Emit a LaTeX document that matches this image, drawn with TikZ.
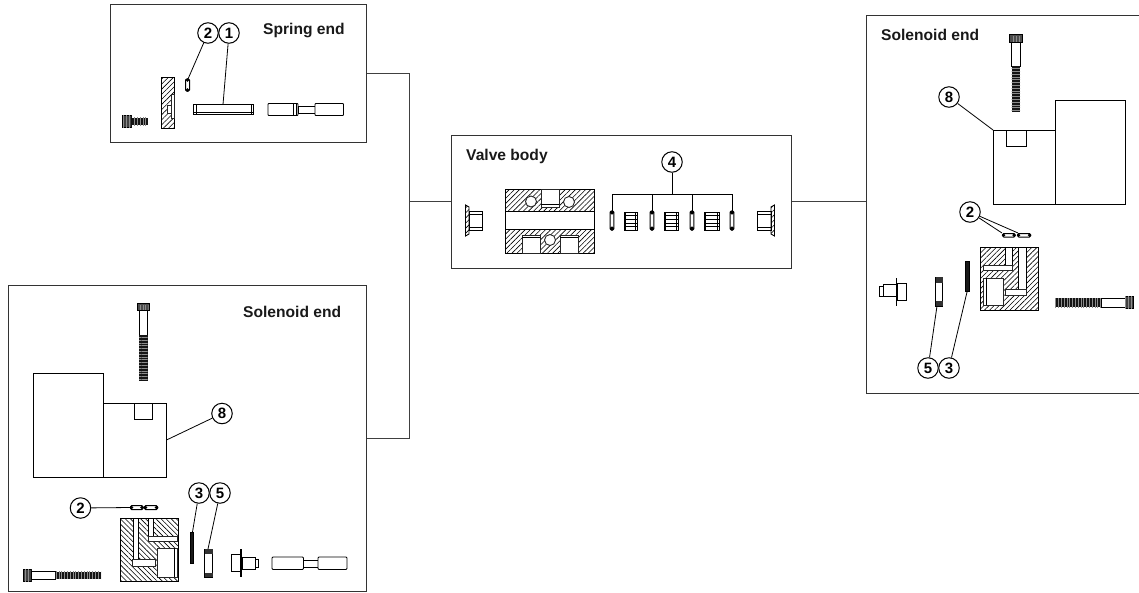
\documentclass[tikz,border=0pt]{standalone}
\usepackage{fontspec}
\setmainfont{Liberation Sans}
\usetikzlibrary{patterns.meta}
\tikzset{
  x=1pt,y=-1pt,
  panel/.style={draw=black!80,line width=1.1pt},
  conn/.style={draw=black!75,line width=1pt},
  bub/.style={circle,draw=black,line width=1pt,fill=white,minimum size=20.5pt,inner sep=0pt,font=\fontsize{15}{15}\selectfont\bfseries},
  lead/.style={draw=black,line width=.8pt},
  lbl/.style={anchor=base west,inner sep=0pt,font=\fontsize{15.6}{16}\selectfont\bfseries,text=black!90},
  part/.style={draw=black,line width=.9pt,fill=white},
  thin part/.style={draw=black,line width=.7pt},
  hatchR/.style={draw=black,line width=.9pt,pattern={Lines[angle=45,distance=3.6pt,line width=.6pt]},pattern color=black},
  hatchL/.style={draw=black,line width=.9pt,pattern={Lines[angle=-45,distance=3.6pt,line width=.6pt]},pattern color=black},
  void/.style={fill=white,draw=black!85,line width=.7pt},
  thread/.style={fill=black!92},
  threadgrid/.style={pattern={Lines[angle=0,distance=2.8pt,line width=.35pt]},pattern color=black!45},
  threadgridh/.style={pattern={Lines[angle=90,distance=2.8pt,line width=.35pt]},pattern color=black!45},
  oring/.style={draw=black,line width=1pt,fill=white,rounded corners=1.2pt},
}
\begin{document}
\begin{tikzpicture}
\useasboundingbox (0,0) rectangle (1139,592);
% panels
\node[panel,anchor=north west,minimum width=256pt,minimum height=138pt,inner sep=0pt] (spring) at (110,4) {};
\node[panel,anchor=north west,minimum width=340pt,minimum height=133pt,inner sep=0pt] (valve) at (451,135) {};
\node[panel,anchor=north west,minimum width=272.5pt,minimum height=378pt,inner sep=0pt] (solR) at (866,15) {};
\node[panel,anchor=north west,minimum width=358pt,minimum height=306pt,inner sep=0pt] (solL) at (8,285) {};
% connectors
\coordinate (j1) at (409,73);
\coordinate (j2) at (409,438);
\coordinate (j3) at (409,201);
\draw[conn] (spring.east |- j1) -- (j1) -- (j2) -- (solL.east |- j2);
\draw[conn] (j3) -- (valve.west |- j3);
\draw[conn] (valve.east |- j3) -- (solR.west |- j3);
% labels
\node[lbl] (t1) at (263,34.7) {Spring end};
\node[lbl] (t2) at (466,160) {Valve body};
\node[lbl] (t3) at (881,40) {Solenoid end};
\node[lbl] (t4) at (243,317.7) {Solenoid end};

%% Spring end parts
\fill[thread] (131,117.5) rectangle (147.5,125);
\fill[threadgridh] (131,117.5) rectangle (147.5,125);
\draw[part,fill=black!75] (122,115.5) rectangle (131,127);
\fill[threadgridh] (122,115.5) rectangle (131,127);
\draw[hatchR] (161.5,77.5) -- (174,77.5) -- (174,128) -- (161.5,128) -- cycle;
\draw[void] (171,94) rectangle (174,118);
\draw[void] (167,105) rectangle (171,113);
\draw[oring] (185.5,79) rectangle (189.5,91);
\fill (187.5,80) circle (1.8) (187.5,90) circle (1.8);
\coordinate (p2a) at (188,79);
\draw[part] (193.5,104.5) rectangle (253.5,114);
\draw[thin part] (196,104.5) -- (196,114) (251,104.5) -- (251,114);
\draw[thin part,line width=1.2pt] (193.5,112.5) -- (253.5,112.5);
\coordinate (p1a) at (223,104.5);
\draw[part,rounded corners=.8pt] (268,103.5) rectangle (298,115.5);
\draw[thin part] (293,103.5) -- (293,115.5) (296,103.5) -- (296,115.5);
\draw[part] (298,106) rectangle (315,113);
\draw[part,rounded corners=.8pt] (315,103.5) rectangle (343.5,115.5);
\node[bub] (b2s) at (208,33) {2};
\node[bub] (b1s) at (229,33) {1};
\draw[lead] (b2s) -- (p2a);
\draw[lead] (b1s) -- (p1a);

%% Valve body parts
\draw[part] (469,211) rectangle (482,230);
\draw[thin part] (469,214) -- (482,214) (469,227) -- (482,227);
\draw[hatchR] (465.5,205) -- (469,207) -- (469,234) -- (465.5,236) -- cycle;
\draw[part] (757,211) rectangle (771,230);
\draw[thin part] (757,214) -- (771,214) (757,227) -- (771,227);
\draw[hatchR] (771,207) -- (774.5,205) -- (774.5,236) -- (771,234) -- cycle;
% block
\draw[hatchR] (505.5,189.5) rectangle (594,211);
\draw[hatchR] (505.5,229.5) rectangle (594,253);
\draw[part] (505.5,211) rectangle (594,229.5);
\draw[void] (541,189.5) rectangle (559,207);
\draw[thin part] (541,204) -- (559,204);
\draw[void,line width=.9pt] (531,201.5) circle (5.5);
\draw[void,line width=.9pt] (569,202) circle (5.5);
\draw[void] (522,235) rectangle (540,253);
\draw[void] (560,235) rectangle (578,253);
\draw[thin part] (522,237.5) -- (540,237.5) (560,237.5) -- (578,237.5);
\draw[void,line width=.9pt] (550,240) circle (5.5);
% orings and cages
\foreach \xx/\nm in {612/r1,652/r2,692/r3,732/r4}{
  \draw[oring] (\xx-1.8,211) rectangle (\xx+1.8,230);
  \fill (\xx,212.5) circle (2) (\xx,228.5) circle (2);
  \coordinate (\nm) at (\xx,211);
}
\foreach \xa/\xb in {624/637,664/678,704/719}{
  \draw[part] (\xa,212) rectangle (\xb,230);
  \draw[thin part,line width=1.2pt] (\xa+1.5,212) -- (\xa+1.5,230) (\xb-1.5,212) -- (\xb-1.5,230);
  \draw[thin part] (\xa,215.5) -- (\xb,215.5) (\xa,219.5) -- (\xb,219.5) (\xa,223) -- (\xb,223) (\xa,226.5) -- (\xb,226.5);
}
\node[bub] (b4) at (672,162) {4};
\coordinate (h1) at (612,194);
\coordinate (h4) at (732,194);
\coordinate (hm) at (672,194);
\draw[lead] (b4) -- (hm);
\draw[lead] (r1) -- (h1) -- (h4) -- (r4);
\draw[lead] (r2) -- (r2 |- h1);
\draw[lead] (r3) -- (r3 |- h1);

%% Right solenoid upper
\draw[part,fill=black!70] (1009.5,34) rectangle (1022.5,42);
\fill[threadgridh] (1011,36) rectangle (1021,41);
\draw[thin part,fill=white] (1011.5,42) rectangle (1020,66);
\fill[thread] (1011.5,66) rectangle (1020,112);
\fill[threadgrid] (1011.5,66) rectangle (1020,112);
\draw[part] (993,130) rectangle (1055.5,204);
\draw[part] (1055.5,100) rectangle (1125.5,204);
\draw[part] (1006.5,130) rectangle (1026,146);
\coordinate (p8r) at (993,130);
\node[bub] (b8r) at (949,97) {8};
\draw[lead] (b8r) -- (p8r);

%% Right solenoid lower
\draw[oring] (1002.5,233.5) rectangle (1015,237);
\draw[oring] (1017.5,233.5) rectangle (1030.5,237);
\fill (1003.5,235.2) circle (1.8) (1014,235.2) circle (1.8) (1018.5,235.2) circle (1.8) (1029.5,235.2) circle (1.8);
\coordinate (p2r1) at (1002,233);
\coordinate (p2r2) at (1018,233);
\node[bub] (b2r) at (970,212) {2};
\draw[lead] (b2r) -- (p2r1);
\draw[lead] (b2r) -- (p2r2);
\draw[hatchR] (980.5,247) rectangle (1038,310);
\fill[white] (1005,247.5) rectangle (1012,266);
\draw[thin part] (1005,247.5) -- (1005,265) (1012,247.5) -- (1012,265);
\draw[void] (983,265) rectangle (1012,270);
\fill[white] (1018.5,247.5) rectangle (1026,290);
\draw[thin part] (1018.5,247.5) -- (1018.5,289) (1026,247.5) -- (1026,289);
\draw[void] (1005.5,289) rectangle (1026.5,295);
\draw[void,line width=.9pt] (983,278) rectangle (1003,305);
\draw[thin part] (986,278) -- (986,305);
\draw[oring,fill=black!90,rounded corners=0pt] (965.5,261.5) rectangle (969.5,291.5);
\coordinate (p3r) at (967,292);
\draw[part] (935.5,277) rectangle (942.5,306);
\fill[black!80] (935.5,277) rectangle (942.5,283);
\fill[black!80] (935.5,301) rectangle (942.5,306);
\coordinate (p5r) at (937,306);
\node[bub] (b5r) at (928,368) {5};
\node[bub] (b3r) at (949,368) {3};
\draw[lead] (b5r) -- (p5r);
\draw[lead] (b3r) -- (p3r);
\draw[part] (879.5,286.5) rectangle (883,296.5);
\draw[part] (883,284) rectangle (896,296);
\draw[part] (897,283) rectangle (906,300);
\draw[line width=1.4pt,black] (896.5,278) -- (896.5,306);
\fill[thread] (1054.5,298) rectangle (1101,307);
\fill[threadgridh] (1054.5,298) rectangle (1101,307);
\draw[thin part,fill=white] (1101,298) rectangle (1125,307);
\draw[part,fill=black!75] (1125,296) rectangle (1133,308);
\fill[threadgridh] (1125,296) rectangle (1133,308);

%% Left solenoid upper
\draw[part,fill=black!70] (137.5,303.5) rectangle (149.5,310);
\fill[threadgridh] (139,305) rectangle (148.5,309.5);
\draw[thin part,fill=white] (139,310) rectangle (147.5,335);
\fill[thread] (139,335) rectangle (147.5,381);
\fill[threadgrid] (139,335) rectangle (147.5,381);
\draw[part] (33.5,373.5) rectangle (103,477);
\draw[part] (103,403.5) rectangle (166.5,477);
\draw[part] (134,403.5) rectangle (152.5,419);
\coordinate (p8l) at (166.5,440);
\node[bub] (b8l) at (222,413.5) {8};
\draw[lead] (b8l) -- (p8l);

%% Left solenoid lower
\draw[oring] (130.5,505.5) rectangle (143,509.5);
\draw[oring] (144.5,505.5) rectangle (157.5,509.5);
\fill (131.5,507.5) circle (1.8) (142,507.5) circle (1.8) (145.5,507.5) circle (1.8) (156.5,507.5) circle (1.8);
\coordinate (p2l) at (130,507.5);
\node[bub] (b2l) at (80.5,508) {2};
\draw[lead] (b2l) -- (p2l);
\draw[hatchL] (120.5,518) rectangle (178.5,581.5);
\fill[white] (133,518.5) rectangle (138.5,560);
\draw[thin part] (133,518.5) -- (133,559) (138.5,518.5) -- (138.5,559);
\draw[void] (132,559) rectangle (155,566.5);
\fill[white] (148,518.5) rectangle (153,537);
\draw[thin part] (148,518.5) -- (148,536) (153,518.5) -- (153,536);
\draw[void] (148,536) rectangle (177,541.5);
\draw[void,line width=.9pt] (157,548) rectangle (177,577);
\draw[thin part] (174,548) -- (174,577);
\draw[oring,fill=black!90,rounded corners=0pt] (190,532) rectangle (193.5,563);
\coordinate (p3l) at (192.5,532);
\draw[part] (204.5,549) rectangle (212.5,577);
\fill[black!80] (204.5,549) rectangle (212.5,553.5);
\fill[black!80] (204.5,572.5) rectangle (212.5,577);
\coordinate (p5l) at (208,549);
\node[bub] (b3l) at (199,493) {3};
\node[bub] (b5l) at (220,493) {5};
\draw[lead] (b3l) -- (p3l);
\draw[lead] (b5l) -- (p5l);
\draw[part] (231.5,554.5) rectangle (240,571.5);
\draw[part] (242,557) rectangle (255,569);
\draw[part] (255,559) rectangle (258,567);
\draw[line width=1.4pt,black] (240.8,549) -- (240.8,577);
\draw[part,rounded corners=1pt] (272,557) rectangle (303.5,569.5);
\draw[part] (303.5,560) rectangle (318,567);
\draw[part,rounded corners=1pt] (318,557) rectangle (347,569.5);
\draw[part,fill=black!75] (23,569.5) rectangle (31,581);
\fill[threadgridh] (23,569.5) rectangle (31,581);
\draw[thin part,fill=white] (31,571.5) rectangle (55,579);
\fill[thread] (55,571.5) rectangle (101,579);
\fill[threadgridh] (55,571.5) rectangle (101,579);
\end{tikzpicture}
\end{document}
